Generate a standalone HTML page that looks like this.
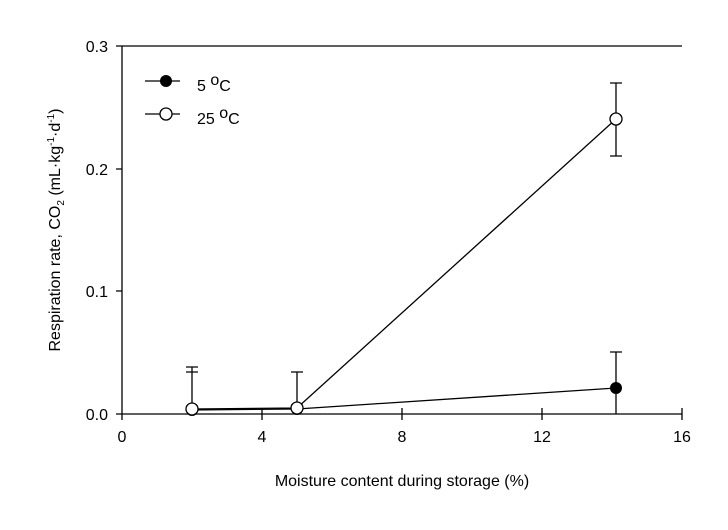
<!DOCTYPE html>
<html><head><style>body{margin:0;background:#fff}</style></head><body>
<svg width="728" height="525" xmlns="http://www.w3.org/2000/svg" font-family="Liberation Sans, sans-serif" fill="#000">
<g stroke="#000" stroke-width="1.3" fill="none">
<path d="M122,46 V414 H682"/>
<path d="M122,46 H682"/>
<path d="M116,46H122M116,169H122M116,291H122M116,414H122"/>
<path d="M122,414V420M262,408V420M402,408V420M542,408V420M682,408V420"/>
<path d="M616,414V352M610,352H622"/>
<path d="M192,409V367M186,367H198M186,372H198"/>
<path d="M297,408V372M291,372H303"/>
<path d="M616,156V83M610,83H622M610,156H622"/>
<path d="M192,410L297,409L616,388"/>
<path d="M192,409L297,408L616,119"/>
<path d="M145,81H180M145,114H180"/>
</g>
<circle cx="616" cy="388" r="6" fill="#000"/>
<circle cx="192" cy="410" r="6" fill="#000"/>
<circle cx="297" cy="409" r="6" fill="#000"/>
<circle cx="192" cy="409" r="6" fill="#fff" stroke="#000" stroke-width="1.3"/>
<circle cx="297" cy="408" r="6" fill="#fff" stroke="#000" stroke-width="1.3"/>
<circle cx="616" cy="119" r="6" fill="#fff" stroke="#000" stroke-width="1.3"/>
<circle cx="166" cy="81" r="6" fill="#000"/>
<circle cx="166" cy="114" r="6" fill="#fff" stroke="#000" stroke-width="1.3"/>
<g font-size="16">
<text x="197" y="91">5 <tspan dy="-6">o</tspan><tspan dy="6">C</tspan></text>
<text x="197" y="124">25 <tspan dy="-6">o</tspan><tspan dy="6">C</tspan></text>
<g text-anchor="end"><text x="108" y="52">0.3</text><text x="108" y="175">0.2</text><text x="108" y="297">0.1</text><text x="108" y="420">0.0</text></g>
<g text-anchor="middle"><text x="122" y="442">0</text><text x="262" y="442">4</text><text x="402" y="442">8</text><text x="542" y="442">12</text><text x="682" y="442">16</text>
<text x="402" y="486">Moisture content during storage (%)</text>
<text transform="translate(60,230) rotate(-90)">Respiration rate, CO<tspan font-size="10" dy="4">2</tspan><tspan dy="-4"> (mL·kg</tspan><tspan font-size="10" dy="-6">-1</tspan><tspan dy="6">·d</tspan><tspan font-size="10" dy="-6">-1</tspan><tspan dy="6">)</tspan></text></g>
</g>
</svg>
</body></html>
